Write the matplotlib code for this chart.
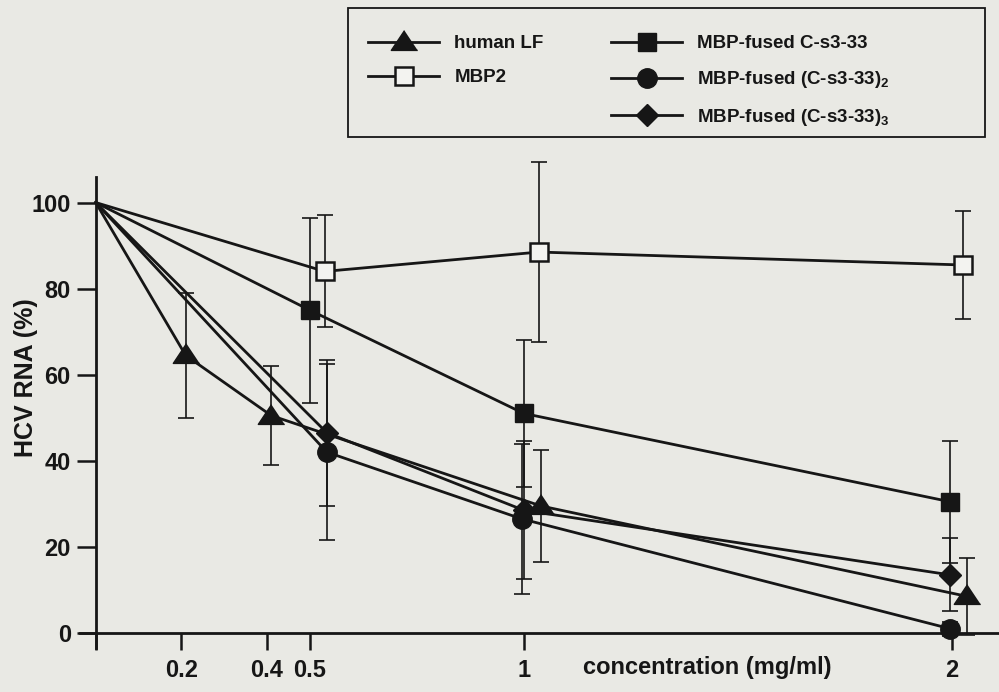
import matplotlib
matplotlib.use("Agg")
import matplotlib.pyplot as plt
from matplotlib.lines import Line2D
from matplotlib.patches import Rectangle

# ---- data ----
lf_x = [0, 0.21, 0.41, 1.04, 2.035]
lf_y = [100, 64.5, 50.5, 29.5, 8.5]
lf_e = [0, 14.5, 11.5, 13, 9]

mbp2_x = [0, 0.535, 1.035, 2.025]
mbp2_y = [100, 84, 88.5, 85.5]
mbp2_e = [0, 13, 21, 12.5]

c1_x = [0, 0.5, 1.0, 1.995]
c1_y = [100, 75, 51, 30.5]
c1_e = [0, 21.5, 17, 14.2]

c2_x = [0, 0.54, 0.995, 1.995]
c2_y = [100, 42, 26.5, 1]
c2_e = [0, 20.5, 17.5, 1.6]

c3_x = [0, 0.54, 1.0, 1.995]
c3_y = [100, 46.5, 28.5, 13.5]
c3_e = [0, 17, 16, 8.5]

x_ticks = [0, 0.2, 0.4, 0.5, 1, 2]
x_ticklabels = ["", "0.2", "0.4", "0.5", "1", "2"]
y_ticks = [0, 20, 40, 60, 80, 100]

labels = ["human LF", "MBP2", "MBP-fused C-s3-33",
          "MBP-fused (C-s3-33)$_2$", "MBP-fused (C-s3-33)$_3$"]

# ---- style ----
BG = "#e9e9e4"
INK = "#161616"
plt.rcParams["font.family"] = ["Liberation Sans", "DejaVu Sans"]
plt.rcParams["font.weight"] = "bold"
plt.rcParams["mathtext.default"] = "regular"

tri = [(0, 0.9), (-1, -0.6), (1, -0.6)]

fig = plt.figure(figsize=(9.99, 6.92), dpi=100, facecolor=BG)
ax = fig.add_axes([0.080, 0.0636, 0.92, 0.681], facecolor=BG)

series = [
    (mbp2_x, mbp2_y, mbp2_e, dict(marker="s", ms=13, mfc="#f3f3f0", mec=INK, mew=1.8)),
    (c1_x, c1_y, c1_e, dict(marker="s", ms=12.5, mfc=INK, mec=INK)),
    (c2_x, c2_y, c2_e, dict(marker="o", ms=14, mfc=INK, mec=INK)),
    (c3_x, c3_y, c3_e, dict(marker="D", ms=11, mfc=INK, mec=INK)),
    (lf_x, lf_y, lf_e, dict(marker=tri, ms=19, mfc=INK, mec=INK)),
]

for i, (xs, ys, es, mk) in enumerate(series):
    ax.plot(xs, ys, color=INK, lw=2.0, markevery=slice(1, None), zorder=3 + i * 0.1, **mk)
    eb = ax.errorbar(xs[1:], ys[1:], yerr=es[1:], fmt="none", ecolor=INK,
                     elinewidth=1.2, capthick=1.2, capsize=5.5, zorder=2)
    for art in list(eb.lines[1]) + list(eb.lines[2]):
        art.set_clip_on(False)

ax.set_xlim(-0.037, 2.11)
ax.set_ylim(-3.5, 106)

for s in ("top", "right"):
    ax.spines[s].set_visible(False)
ax.spines["left"].set_position(("data", 0))
ax.spines["bottom"].set_position(("data", 0))
for s in ("left", "bottom"):
    ax.spines[s].set_linewidth(2.0)
    ax.spines[s].set_color(INK)

ax.set_xticks(x_ticks)
ax.set_xticklabels(x_ticklabels)
ax.set_yticks(y_ticks)
ax.tick_params(axis="x", direction="out", length=12, width=1.8, colors=INK,
               labelsize=17, pad=7)
ax.tick_params(axis="y", direction="out", length=14, width=1.8, colors=INK,
               labelsize=17, pad=4)
for t in ax.get_xticklabels() + ax.get_yticklabels():
    t.set_fontweight("bold")

fig.text(0.708, 0.035, "concentration (mg/ml)", ha="center", va="center",
         fontsize=17, fontweight="bold", color=INK)
fig.text(0.026, 0.455, "HCV RNA (%)", ha="center", va="center", rotation=90,
         fontsize=18, fontweight="bold", color=INK)

# legend box
fig.patches.append(Rectangle((348 / 999, 1 - 137 / 692), (985 - 348) / 999,
                             (137 - 8) / 692, transform=fig.transFigure,
                             fill=False, ec=INK, lw=1.3))

h_lf = Line2D([], [], color=INK, lw=2, marker=tri, ms=19, mfc=INK, mec=INK)
h_m2 = Line2D([], [], color=INK, lw=2, marker="s", ms=13, mfc="#f3f3f0", mec=INK, mew=1.8)
h_c1 = Line2D([], [], color=INK, lw=2, marker="s", ms=12.5, mfc=INK, mec=INK)
h_c2 = Line2D([], [], color=INK, lw=2, marker="o", ms=14, mfc=INK, mec=INK)
h_c3 = Line2D([], [], color=INK, lw=2, marker="D", ms=11, mfc=INK, mec=INK)
h_blank = Line2D([], [], color="none", lw=0)

leg = fig.legend([h_lf, h_m2, h_blank, h_c1, h_c2, h_c3],
                 [labels[0], labels[1], "", labels[2], labels[3], labels[4]],
                 ncol=2, loc="upper left", bbox_to_anchor=(355 / 999, 1 - 22 / 692),
                 frameon=False, handlelength=3.8, handletextpad=0.8,
                 columnspacing=3.6, labelspacing=0.9, borderpad=0.2,
                 prop={"weight": "bold", "size": 13.5})
for t in leg.get_texts():
    t.set_color(INK)

fig.savefig("out.png", dpi=100, facecolor=BG)
